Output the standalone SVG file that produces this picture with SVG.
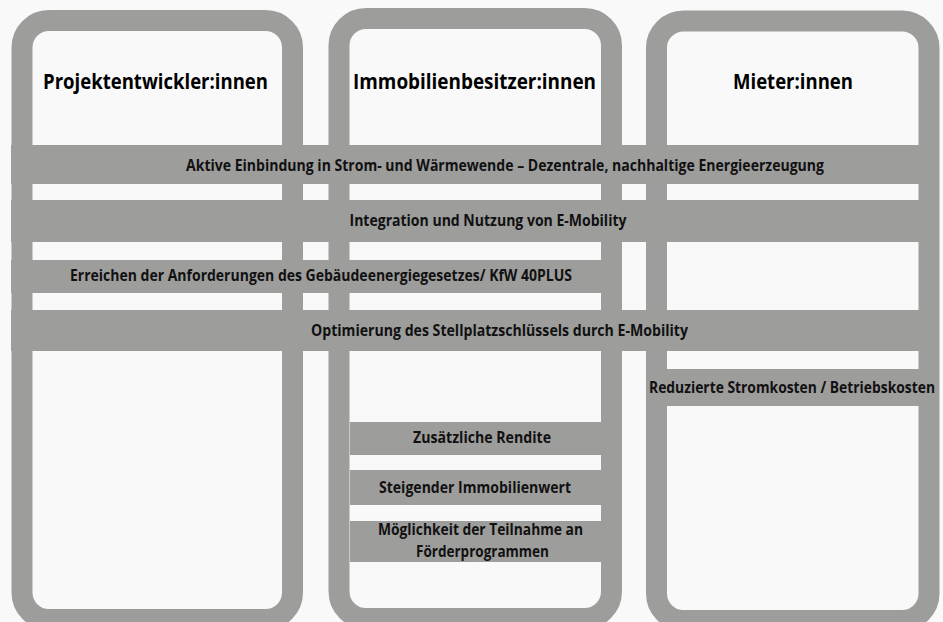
<svg xmlns="http://www.w3.org/2000/svg" width="943" height="622" viewBox="0 0 943 622">
  <style>
    .box { fill: #f9f9f9; stroke: #9d9d9c; stroke-width: 21; }
    .band { fill: #9d9d9c; }
    .title { font-family: "Open Sans", "Noto Sans", "Liberation Sans", sans-serif; font-weight: bold; font-size: 21px; fill: #000; text-anchor: middle; }
    .lbl { font-family: "Open Sans", "Noto Sans", "Liberation Sans", sans-serif; font-weight: bold; font-size: 15.5px; fill: #111; text-anchor: middle; }
  </style>
  <rect x="0" y="0" width="943" height="622" fill="#f9f9f9"/>
  <g id="node-projektentwickler">
    <rect class="box" x="22" y="20.5" width="270.5" height="599" rx="27"/>
    <text class="title" x="155.5" y="89" textLength="225" lengthAdjust="spacingAndGlyphs">Projektentwickler:innen</text>
  </g>
  <g id="node-immobilienbesitzer">
    <rect class="box" x="339" y="18.5" width="272.5" height="600" rx="27"/>
    <text class="title" x="474.5" y="89" textLength="243" lengthAdjust="spacingAndGlyphs">Immobilienbesitzer:innen</text>
  </g>
  <g id="node-mieter">
    <rect class="box" x="656.5" y="21" width="272.5" height="599.5" rx="27"/>
    <text class="title" x="793" y="89" textLength="120" lengthAdjust="spacingAndGlyphs">Mieter:innen</text>
  </g>
  <g id="connectors">
    <g id="band-aktive">
      <rect class="band" x="11" y="145" width="928" height="39"/>
      <text class="lbl" x="505" y="171" textLength="638" lengthAdjust="spacingAndGlyphs">Aktive Einbindung in Strom- und Wärmewende – Dezentrale, nachhaltige Energieerzeugung</text>
    </g>
    <g id="band-integration">
      <rect class="band" x="11" y="200" width="928" height="42"/>
      <text class="lbl" x="488" y="226" textLength="277" lengthAdjust="spacingAndGlyphs">Integration und Nutzung von E-Mobility</text>
    </g>
    <g id="band-geg">
      <rect class="band" x="11" y="260" width="611" height="33"/>
      <text class="lbl" x="321" y="281" textLength="502" lengthAdjust="spacingAndGlyphs">Erreichen der Anforderungen des Gebäudeenergiegesetzes/ KfW 40PLUS</text>
    </g>
    <g id="band-stellplatz">
      <rect class="band" x="11" y="310" width="928" height="41"/>
      <text class="lbl" x="499.5" y="336" textLength="377" lengthAdjust="spacingAndGlyphs">Optimierung des Stellplatzschlüssels durch E-Mobility</text>
    </g>
    <g id="band-stromkosten">
      <rect class="band" x="646" y="369" width="293" height="37"/>
      <text class="lbl" x="792" y="393" textLength="286" lengthAdjust="spacingAndGlyphs">Reduzierte Stromkosten / Betriebskosten</text>
    </g>
    <g id="band-rendite">
      <rect class="band" x="350" y="422" width="251" height="33"/>
      <text class="lbl" x="482" y="443" textLength="138" lengthAdjust="spacingAndGlyphs">Zusätzliche Rendite</text>
    </g>
    <g id="band-wert">
      <rect class="band" x="350" y="470" width="251" height="35"/>
      <text class="lbl" x="475" y="493" textLength="192" lengthAdjust="spacingAndGlyphs">Steigender Immobilienwert</text>
    </g>
    <g id="band-foerder">
      <rect class="band" x="350" y="521" width="251" height="41"/>
      <text class="lbl" x="480.5" y="535" textLength="205" lengthAdjust="spacingAndGlyphs">Möglichkeit der Teilnahme an</text>
      <text class="lbl" x="482.5" y="557" textLength="133" lengthAdjust="spacingAndGlyphs">Förderprogrammen</text>
    </g>
  </g>
</svg>
